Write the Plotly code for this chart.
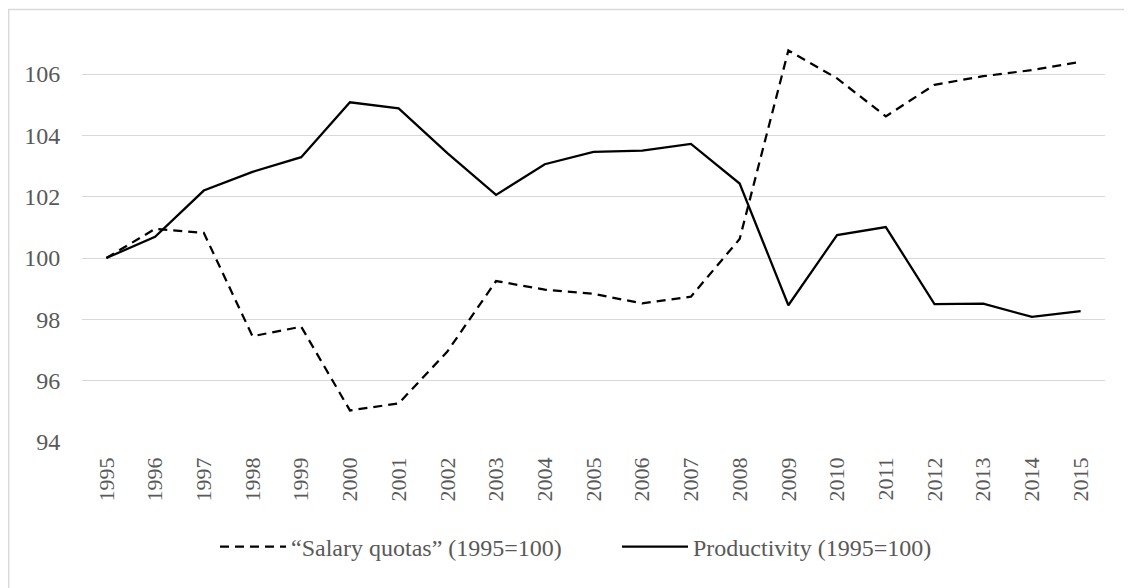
import plotly.graph_objects as go

years = [str(y) for y in range(1995, 2016)]
salary_quotas = [100.0, 100.95, 100.82, 97.45, 97.76, 95.03, 95.26, 96.95, 99.25, 98.97,
                 98.83, 98.52, 98.74, 100.62, 106.77, 105.86, 104.62, 105.65, 105.93, 106.13, 106.4]
productivity = [100.0, 100.69, 102.2, 102.81, 103.29, 105.08, 104.88, 103.42, 102.06, 103.06,
                103.46, 103.5, 103.72, 102.43, 98.46, 100.75, 101.01, 98.5, 98.51, 98.08, 98.27]
y_ticks = [94, 96, 98, 100, 102, 104, 106]

FONT = "Liberation Serif"
GRAY = "#595959"

fig = go.Figure()
fig.add_trace(go.Scatter(x=years, y=salary_quotas, mode="lines",
                         name="\u201cSalary quotas\u201d (1995=100)",
                         line=dict(color="black", width=2.25, dash="9px,6px")))
fig.add_trace(go.Scatter(x=years, y=productivity, mode="lines",
                         name="Productivity (1995=100)",
                         line=dict(color="black", width=2.25)))

# page body has an 8px margin, so the figure starts at screen (8, 8)
OFF = 8
W, H = 1132 - OFF, 588 - OFF
L, R, T = 82 - OFF, 27, 25 - OFF
B = H - (442 - OFF)
pw, ph = W - L - R, H - T - B
def px(x):
    return (x - OFF - L) / pw
def py(y):
    return (H - B - (y - OFF)) / ph

fig.update_layout(
    width=W, height=H,
    margin=dict(l=L, r=R, t=T, b=B, autoexpand=False),
    paper_bgcolor="white", plot_bgcolor="white",
    font=dict(family=FONT, size=24, color=GRAY),
    xaxis=dict(type="category", tickangle=-90, showgrid=False, showline=False,
               ticks="", tickfont=dict(size=22, color=GRAY), range=[-0.5, 20.5],
               automargin=False, ticklabelstandoff=10),
    yaxis=dict(range=[94, 107.6], tickvals=y_ticks, showgrid=True, gridcolor="#d9d9d9",
               gridwidth=1.3, zeroline=False, showline=False,
               ticks="outside", ticklen=16, tickcolor="rgba(0,0,0,0)",
               tickfont=dict(size=24, color=GRAY), automargin=False),
    showlegend=True,
    legend=dict(orientation="h", xref="container", yref="container",
                x=(222 - OFF - 7) / W, xanchor="left", y=1 - (547 - OFF) / H, yanchor="middle",
                font=dict(size=24, color=GRAY), itemwidth=66, entrywidth=321,
                tracegroupgap=0, bgcolor="rgba(0,0,0,0)"),
    shapes=[dict(type="rect", xref="paper", yref="paper",
                 x0=px(8.7), x1=px(1145), y0=py(9.5), y1=py(600),
                 line=dict(color="#d9d9d9", width=1.5), fillcolor="rgba(0,0,0,0)", layer="below")],
)

fig.write_html("out.html")
